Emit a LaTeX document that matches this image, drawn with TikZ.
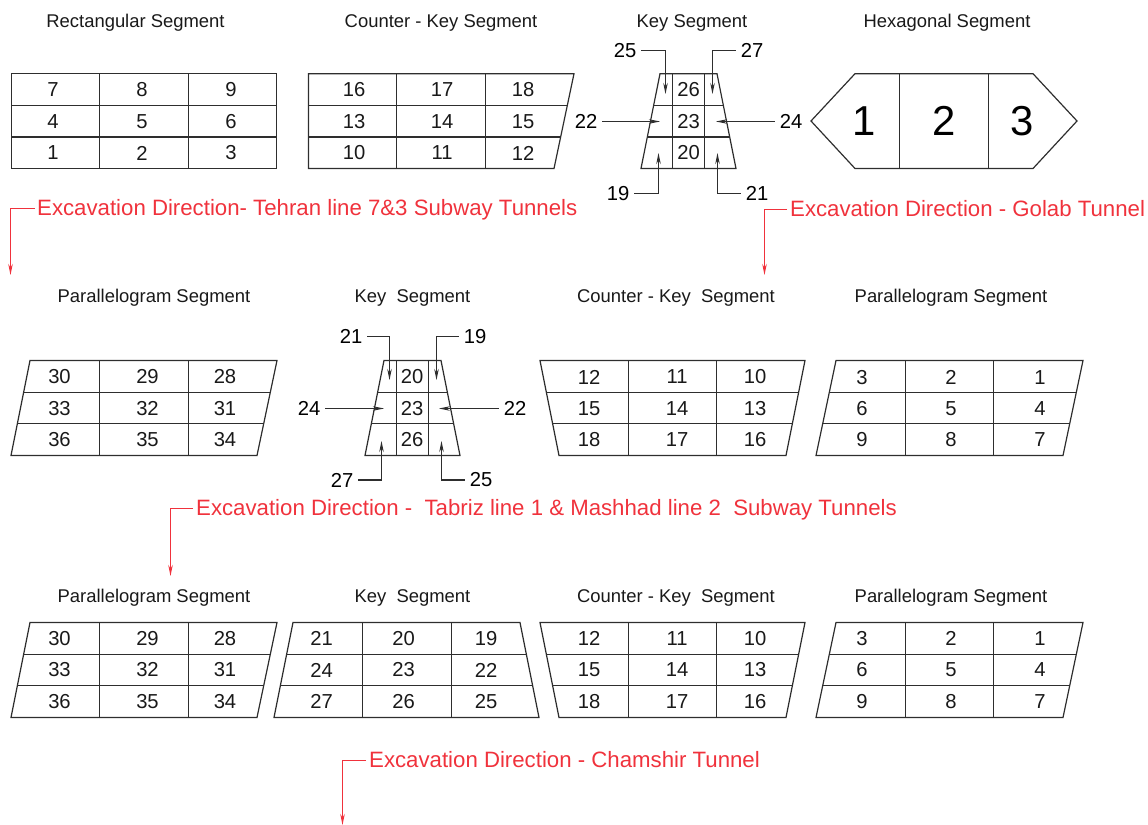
\documentclass[tikz,border=0pt]{standalone}
\usepackage{fontspec}
\setmainfont{Liberation Sans}
\usetikzlibrary{calc,arrows.meta}
\definecolor{inkline}{HTML}{2E2E2E}
\definecolor{redink}{HTML}{F0323C}
\tikzset{
  segline/.style={draw=inkline,line width=1.2bp,line join=miter},
  title/.style={font=\fontsize{18.5}{20}\selectfont,text=black!90,inner sep=0pt,text height=15bp,text depth=4bp},
  cellnum/.style={font=\fontsize{20.3}{22}\selectfont,text=black!90,inner sep=0pt},
  bignum/.style={font=\fontsize{42}{44}\selectfont,text=black,inner sep=0pt},
  tag/.style={font=\fontsize{20.3}{22}\selectfont,text=black,inner sep=5bp},
  leader/.style={draw=inkline,line width=1.1bp,-{Stealth[length=11bp,width=4.5bp]}},
  redtext/.style={font=\fontsize{22.3}{24}\selectfont,text=redink,anchor=west,inner sep=0pt,text height=18bp,text depth=4.5bp},
  redleader/.style={draw=redink,line width=1.1bp,-{Stealth[length=11bp,width=4.5bp]}},
}
% name, xTL, xTR, xBL, xBR, yT, yB, v1, v2
\newcommand{\segblock}[9]{%
  \coordinate (#1tl) at (#2,#6); \coordinate (#1tr) at (#3,#6);
  \coordinate (#1bl) at (#4,#7); \coordinate (#1br) at (#5,#7);
  \draw[segline] (#1tl) -- (#1tr) -- (#1br) -- (#1bl) -- cycle;
  \draw[segline] ($(#1tl)!1/3!(#1bl)$) -- ($(#1tr)!1/3!(#1br)$);
  \draw[segline] ($(#1tl)!2/3!(#1bl)$) -- ($(#1tr)!2/3!(#1br)$);
  \draw[segline] (#8,#6) -- (#8,#7);
  \draw[segline] (#9,#6) -- (#9,#7);
}
% prefix, x1,x2,x3, y1,y2,y3, then 9 labels as a list
\newcommand{\segnums}[8]{%
  \foreach \lab [count=\i from 0] in {#8} {
    \pgfmathtruncatemacro{\cc}{mod(\i,3)}
    \pgfmathtruncatemacro{\rr}{int(\i/3)}
    \pgfmathsetmacro{\xx}{\cc==0 ? #2 : (\cc==1 ? #3 : #4)}
    \pgfmathsetmacro{\yy}{\rr==0 ? #5 : (\rr==1 ? #6 : #7)}
    \node[cellnum] (#1n\i) at (\xx,\yy) {\lab};
  }
}
\begin{document}
\begin{tikzpicture}[x=1bp,y=-1bp]
\useasboundingbox (0,0) rectangle (1148,825);

% titles row 1
\node[title] (t1) at (135.5,22) {Rectangular Segment};
\node[title] (t2) at (441,22) {Counter - Key Segment};
\node[title] (t3) at (692,22) {Key Segment};
\node[title] (t4) at (947,22) {Hexagonal Segment};
% titles row 2
\node[title] (t5) at (154,297) {Parallelogram Segment};
\node[title] (t6) at (412.5,297) {Key\ \ Segment};
\node[title] (t7) at (676,297) {Counter - Key\ \ Segment};
\node[title] (t8) at (951,297) {Parallelogram Segment};
% titles row 3
\node[title] (t9) at (154,597) {Parallelogram Segment};
\node[title] (t10) at (412.5,597) {Key\ \ Segment};
\node[title] (t11) at (676,597) {Counter - Key\ \ Segment};
\node[title] (t12) at (951,597) {Parallelogram Segment};

% row 1 segments
\segblock{ra}{11.5}{276.5}{11.5}{276.5}{73.7}{168.5}{99.5}{188.5}
\segnums{ra}{53}{142}{231}{90}{121.5}{153}{7,8,9,4,5,6,1,2,3}
\segblock{ca}{308.5}{574}{308.5}{554}{73.7}{168.5}{396.5}{485.5}
\segnums{ca}{354}{442}{523}{90}{121.5}{153}{16,17,18,13,14,15,10,11,12}
\segblock{ka}{660}{717}{641}{736}{73.7}{168.5}{672.5}{704.5}
\node[cellnum] (ka26) at (688.5,90) {26};
\node[cellnum] (ka23) at (688.5,121.5) {23};
\node[cellnum] (ka20) at (688.5,153) {20};

% hexagon
\coordinate (hl) at (811,121); \coordinate (hr) at (1077,121);
\draw[segline] (hl) -- (855,73.7) -- (1033,73.7) -- (hr) -- (1033,168.5) -- (855,168.5) -- cycle;
\draw[segline] (899.5,73.7) -- (899.5,168.5);
\draw[segline] (988.5,73.7) -- (988.5,168.5);
\node[bignum] (h1) at (864,121) {1};
\node[bignum] (h2) at (944,121) {2};
\node[bignum] (h3) at (1022,121) {3};

% key segment 1 leaders
\node[tag] (a25) at (625,50.5) {25};
\node[tag] (a27) at (752,50.5) {27};
\node[tag] (a22) at (586,121.5) {22};
\node[tag] (a24) at (791,121.5) {24};
\node[tag] (a19) at (618,193.5) {19};
\node[tag] (a21) at (757,193.5) {21};
\coordinate (e25) at (665.5,94);
\coordinate (e27) at (712.5,94);
\coordinate (e22) at (660,121.5);
\coordinate (e24) at (716,121.5);
\coordinate (e19) at (658.5,153);
\coordinate (e21) at (717.5,153);
\draw[leader] (a25) -| (e25);
\draw[leader] (a27) -| (e27);
\draw[leader] (a22) -- (e22);
\draw[leader] (a24) -- (e24);
\draw[leader] (a19) -| (e19);
\draw[leader] (a21) -| (e21);

% row 2 segments
\segblock{pb}{30}{277}{11}{257}{360.5}{455.5}{99.5}{188.5}
\segnums{pb}{59.5}{147.5}{225}{377}{408.5}{440}{30,29,28,33,32,31,36,35,34}
\segblock{kb}{384}{441}{365}{460}{360.5}{455.5}{396.5}{428.5}
\node[cellnum] (kb20) at (412,377) {20};
\node[cellnum] (kb23) at (412,408.5) {23};
\node[cellnum] (kb26) at (412,440) {26};
\segblock{cb}{540}{805}{559}{786}{360.5}{455.5}{628.5}{716.5}
\segnums{cb}{589}{677}{755}{377}{408.5}{440}{12,11,10,15,14,13,18,17,16}
\segblock{qb}{836}{1083}{816}{1063}{360.5}{455.5}{905.5}{993.5}
\segnums{qb}{862}{951}{1040}{377.5}{409}{440}{3,2,1,6,5,4,9,8,7}

% key segment 2 leaders
\node[tag] (b21) at (351,336.5) {21};
\node[tag] (b19) at (475,336.5) {19};
\node[tag] (b24) at (309,408.5) {24};
\node[tag] (b22) at (515,408.5) {22};
\node[tag] (b27) at (342,480) {27};
\node[tag] (b25) at (481,480) {25};
\coordinate (f21) at (389.5,380);
\coordinate (f19) at (436.5,380);
\coordinate (f24) at (384,408.5);
\coordinate (f22) at (439,408.5);
\coordinate (f27) at (381.5,441);
\coordinate (f25) at (441.5,441);
\draw[leader] (b21) -| (f21);
\draw[leader] (b19) -| (f19);
\draw[leader] (b24) -- (f24);
\draw[leader] (b22) -- (f22);
\draw[leader] (b27) -| (f27);
\draw[leader] (b25) -| (f25);

% row 3 segments
\segblock{pc}{30}{277}{11}{257}{622.5}{717.5}{99.5}{188.5}
\segnums{pc}{59.5}{147.5}{225}{638.5}{670}{701.5}{30,29,28,33,32,31,36,35,34}
\segblock{kc}{293}{520}{274}{539}{622.5}{717.5}{362.5}{451.5}
\segnums{kc}{321.5}{403.5}{486}{638.5}{670}{701.5}{21,20,19,24,23,22,27,26,25}
\segblock{cc}{540}{805}{559}{786}{622.5}{717.5}{628.5}{716.5}
\segnums{cc}{589}{677}{755}{638.5}{670}{701.5}{12,11,10,15,14,13,18,17,16}
\segblock{qc}{836}{1083}{816}{1063}{622.5}{717.5}{905.5}{993.5}
\segnums{qc}{862}{951}{1040}{638.5}{670}{702}{3,2,1,6,5,4,9,8,7}

% excavation directions
\node[redtext] (x1) at (37,208.5) {Excavation Direction- Tehran line 7\&3 Subway Tunnels};
\node[redtext] (x2) at (790,209.5) {Excavation Direction - Golab Tunnel};
\node[redtext] (x3) at (196,508.5) {Excavation Direction -\ \ Tabriz line 1 \& Mashhad line 2\ \ Subway Tunnels};
\node[redtext] (x4) at (369,760.5) {Excavation Direction - Chamshir Tunnel};
\coordinate (y1) at (10.5,275);
\coordinate (y2) at (764.5,275);
\coordinate (y3) at (170.5,576);
\coordinate (y4) at (342.5,825);
\draw[redleader] ([xshift=-2.5bp]x1.west) -| (y1);
\draw[redleader] ([xshift=-3bp]x2.west) -| (y2);
\draw[redleader] ([xshift=-3bp]x3.west) -| (y3);
\draw[redleader] ([xshift=-3bp]x4.west) -| (y4);
\end{tikzpicture}
\end{document}
